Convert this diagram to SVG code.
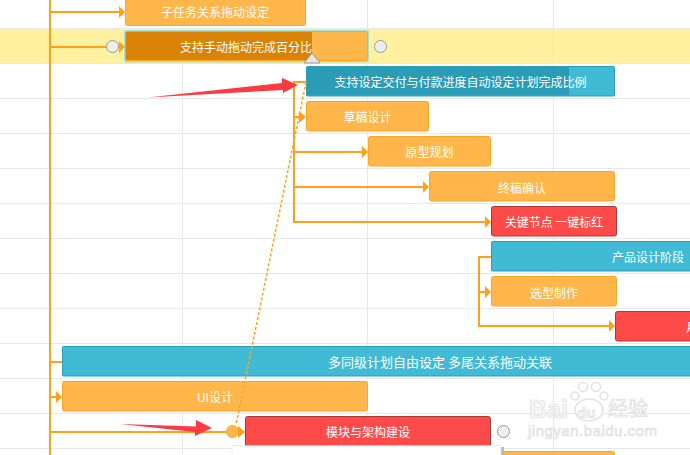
<svg xmlns="http://www.w3.org/2000/svg" width="690" height="455" viewBox="0 0 690 455">
<style>
.grid{stroke:#e8e8e8;stroke-width:1;fill:none}
.c{stroke:#ff9f1a;stroke-width:2;fill:none}
.d{stroke:#ffa526;stroke-width:1.6;fill:none;stroke-dasharray:3 2}
.h{fill:#ff9f1a}
.o{fill:#ffb64a;stroke:#ffa51f;stroke-width:1}
.b{fill:#40bad5;stroke:#2a9fb8;stroke-width:1}
.r{fill:#ff4a4a;stroke:#a93a3a;stroke-width:1}
.t{font-family:"Noto Sans CJK SC","Liberation Sans",sans-serif;font-size:12px;fill:#fff;text-anchor:middle}
.k{fill:#eee;stroke:#999;stroke-width:1}
.w{fill:#f6f6f6;stroke:#dedede;stroke-width:0.7}
.p{fill:#fff;stroke:#e2e2e2;stroke-width:1.500}
</style>
<rect width="690" height="455" fill="#fff"/>
<rect x="0" y="29" width="690" height="34.500" fill="#fff1a0"/>
<g id="grid">
<path class="grid" d="M0 28.500H690M0 63.500H690M0 98.500H690M0 133.500H690M0 168.500H690M0 203.500H690M0 238.500H690M0 273.500H690M0 308.500H690M0 343.500H690M0 378.500H690M0 413.500H690M0 448.500H690"/>
<path class="grid" d="M182.500 0V455M367.500 0V455M553.500 0V455"/>
</g>
<g id="n1"><rect class="o" x="125.500" y="-5" width="180" height="30.500" rx="2"/><text class="t" x="215" y="16.500">子任务关系拖动设定</text></g>
<g id="n2"><rect x="124" y="30" width="245" height="32.500" rx="2" fill="#a9e0cc"/><rect class="o" x="125.500" y="31.500" width="242" height="29" rx="2"/><rect x="126" y="32" width="186" height="28" rx="1" fill="#d98306"/><text class="t" x="246" y="52">支持手动拖动完成百分比</text>
<circle class="k" cx="112.500" cy="46.500" r="6"/><circle class="k" cx="380.500" cy="46.500" r="6"/><path d="M304 63l8-10l8 10z" fill="#e8e6e0" stroke="#999" stroke-width="1"/></g>
<g id="n3"><rect class="b" x="306.500" y="66.500" width="308" height="29.500" rx="1"/><rect x="307" y="67" width="262" height="28.500" fill="#2a9cb5"/><text class="t" x="460.500" y="87">支持设定交付与付款进度自动设定计划完成比例</text></g>
<g id="n4"><rect class="o" x="306.500" y="101.500" width="122" height="29.500" rx="2"/><text class="t" x="367.500" y="122">草稿设计</text></g>
<g id="n5"><rect class="o" x="368.500" y="136.500" width="122" height="29.500" rx="2"/><text class="t" x="429.500" y="157">原型规划</text></g>
<g id="n6"><rect class="o" x="429.500" y="171.500" width="185" height="29.500" rx="2"/><text class="t" x="522" y="193">终稿确认</text></g>
<g id="n7"><rect class="r" x="491.500" y="206.500" width="125" height="29.500" rx="2"/><text class="t" x="554" y="227">关键节点 一键标红</text></g>
<g id="n8"><rect class="b" x="491.500" y="241.500" width="210" height="29.500" rx="1"/><text class="t" x="648" y="262">产品设计阶段</text></g>
<g id="n9"><rect class="o" x="491.500" y="276.500" width="125" height="29.500" rx="2"/><text class="t" x="554" y="297.500">选型制作</text></g>
<g id="n10"><rect class="r" x="615.500" y="311.500" width="90" height="29.500" rx="2"/><text class="t" x="692" y="332">月</text></g>
<g id="n11"><rect class="b" x="62.500" y="346.500" width="640" height="29.500" rx="1"/><text class="t" x="440" y="367" style="font-size:13px">多同级计划自由设定 多尾关系拖动关联</text></g>
<g id="n12"><rect class="o" x="62.500" y="381.500" width="305" height="29.500" rx="2"/><text class="t" x="215" y="402">UI设计</text></g>
<g id="n13"><rect class="r" x="245.500" y="416.500" width="245" height="32" rx="2"/><text class="t" x="368" y="437">模块与架构建设</text>
<circle class="k" cx="503.500" cy="431.500" r="6"/></g>
<g id="popup"><rect x="501" y="447" width="3" height="8" fill="#bbb"/><rect x="232" y="445.500" width="269" height="12" fill="#fff" stroke="#ddd" stroke-dasharray="1 1"/></g>
<g id="n14"><rect class="o" x="503.500" y="451.500" width="111" height="12" rx="2"/></g>
<g id="connectors">
<path class="c" d="M50 0V455"/>
<path class="c" d="M50 12H120"/><path class="h" d="M119 6l6 6l-6 6z"/>
<path class="c" d="M50 47H106"/><path class="h" d="M119 41l6 6l-6 6z"/>
<path class="c" d="M306 82H294V222H486"/>
<path class="c" d="M294 117H301"/><path class="h" d="M299 111l7 6l-7 6z"/>
<path class="c" d="M294 152H363"/><path class="h" d="M362 146l6 6l-6 6z"/>
<path class="c" d="M294 187H424"/><path class="h" d="M423 181l6 6l-6 6z"/>
<path class="h" d="M485 216l6 6l-6 6z"/>
<path class="c" d="M491 257H479V326H610"/>
<path class="c" d="M479 292H486"/><path class="h" d="M485 286l6 6l-6 6z"/>
<path class="h" d="M609 320l6 6l-6 6z"/>
<path class="c" d="M50 362H62"/>
<path class="c" d="M50 397H57"/><path class="h" d="M56 391l6 6l-6 6z"/>
<path class="c" d="M50 432H226"/><path class="h" d="M238 426l7 6l-7 6z"/>
<path class="d" d="M306 82L236 425"/>
<circle cx="232.500" cy="431.500" r="6" fill="#ffb64a" stroke="#ffa51f"/>
</g>
<g id="red-arrows" fill="#fb3a42">
<path d="M148 97.500L282 83L282 78L298 85L283 93L283 90z"/>
<path d="M120 424L196 426.500L196 420L212 428L195 436L195 432z"/>
</g>
<g id="watermark">
<ellipse class="p" cx="589" cy="410" rx="14" ry="11"/>
<circle class="p" cx="575" cy="396" r="4"/><circle class="p" cx="583" cy="387" r="4.500"/><circle class="p" cx="596" cy="387" r="4.500"/><circle class="p" cx="604" cy="396" r="4"/>
<text class="w" x="529" y="418" font-family="Liberation Sans, sans-serif" font-size="25" font-weight="700">Bai</text>
<text class="w" x="577" y="418" font-family="Liberation Sans, sans-serif" font-size="15" font-weight="700">du</text>
<text class="w" x="608" y="416" font-family="Noto Sans CJK SC, sans-serif" font-size="20">经验</text>
<text class="w" x="528" y="436" font-family="Liberation Sans, sans-serif" font-size="15" letter-spacing="0.500">jingyan.baidu.com</text>
</g>
</svg>
